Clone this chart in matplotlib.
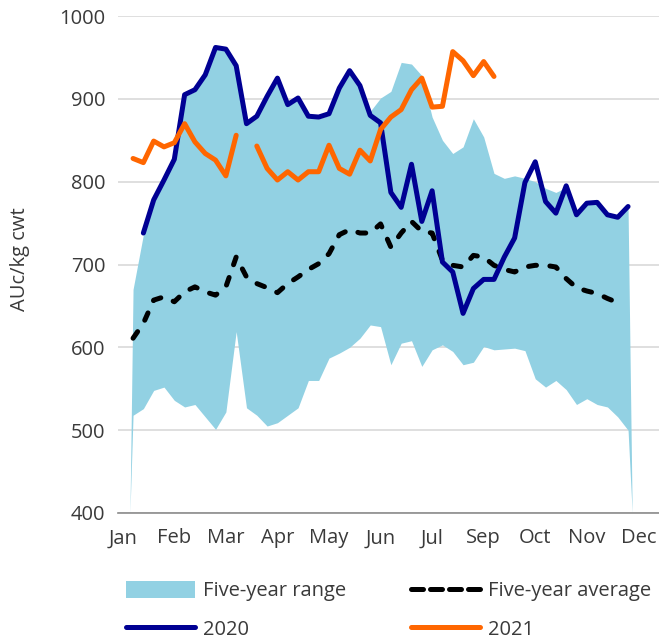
import numpy as np
import matplotlib
matplotlib.use("Agg")
import matplotlib.pyplot as plt
from matplotlib.patches import Patch
from matplotlib.lines import Line2D

plt.rcParams['font.family'] = ['Open Sans', 'DejaVu Sans']

# weekly categories
weeks = np.arange(1, 50)
month_ticks = np.arange(0, 51, 5)
month_labels = ['Jan', 'Feb', 'Mar', 'Apr', 'May', 'Jun', 'Jul', 'Sep', 'Oct', 'Nov', 'Dec']

nan = np.nan
range_low = [518, 526, 548, 552, 536, 528, 531, 516, 501, 522, 619, 527, 518, 505, 509, 518, 527,
             560, 560, 587, 593, 600, 611, 627, 625, 579, 605, 608, 577, 597, 603, 595, 579, 582,
             601, 597, 598, 599, 596, 562, 552, 560, 549, 531, 538, 531, 528, 516, 500]
range_high = [670, 736, 776, 800, 825, 903, 909, 927, 960, 958, 938, 868, 877, 901, 923, 891, 899,
              877, 876, 880, 911, 932, 914, 885, 901, 909, 944, 942, 928, 878, 850, 834, 842, 876,
              854, 810, 804, 807, 804, 800, 792, 787, 793, 758, 772, 773, 758, 755, 768]
avg5 = [611, 629, 657, 661, 655, 667, 673, 667, 663, 673, 709, 685, 677, 672, 666, 677, 685,
        694, 701, 713, 736, 742, 738, 738, 749, 721, 738, 752, 740, 738, 705, 699, 697, 711,
        709, 699, 694, 691, 697, 699, 699, 697, 683, 672, 668, 665, 659, 654, nan]
y2020 = [nan, 738, 778, 802, 827, 905, 911, 929, 962, 960, 940, 870, 879, 903, 925, 893, 901,
         879, 878, 882, 913, 934, 916, 880, 871, 787, 769, 821, 752, 789, 703, 691, 641, 671,
         682, 682, 709, 732, 799, 824, 776, 762, 795, 760, 774, 775, 760, 757, 770]
y2021 = [828, 823, 849, 842, 847, 870, 848, 834, 826, 807, 856, nan, 843, 816, 802, 812, 802,
         812, 812, 844, 816, 809, 838, 825, 863, 878, 887, 911, 925, 890, 891, 957, 946, 928,
         945, 927] + [nan] * 13

c_range = '#92d1e3'
c_2020 = '#000093'
c_2021 = '#ff6600'
c_text = '#3a3a3a'

fig = plt.figure(figsize=(6.59, 6.4), dpi=100)
ax = fig.add_axes([118 / 659, 1 - 513 / 640, 541 / 659, 497 / 640])

# range band, with the thin edges Excel draws down to the axis
xb = np.concatenate([[weeks[0] - 0.3], weeks, [weeks[-1] + 0.4]])
lo = np.concatenate([[400], range_low, [400]])
hi = np.concatenate([[400], range_high, [400]])
ax.fill_between(xb, lo, hi, color=c_range, linewidth=0, zorder=2)

ax.plot(weeks, avg5, color='black', lw=3.6, dashes=(1.6, 2.7),
        dash_capstyle='round', zorder=3)
ax.plot(weeks, y2020, color=c_2020, lw=3.6, solid_capstyle='round',
        solid_joinstyle='round', zorder=4)
ax.plot(weeks, y2021, color=c_2021, lw=3.6, solid_capstyle='round',
        solid_joinstyle='round', zorder=5)

ax.set_xlim(-0.46, 52)
ax.set_ylim(400, 1000)
ax.set_yticks(range(400, 1001, 100))
ax.set_xticks(month_ticks)
ax.set_xticklabels(month_labels)
ax.tick_params(length=0, labelsize=14.5, colors=c_text)
ax.tick_params(axis='x', pad=11)
ax.tick_params(axis='y', pad=9)
ax.grid(axis='y', color='#d9d9d9', lw=1.2, zorder=0)
ax.set_axisbelow(True)
for s in ['top', 'right', 'left']:
    ax.spines[s].set_visible(False)
ax.spines['bottom'].set_color('#8c8c8c')
ax.spines['bottom'].set_linewidth(1.2)
ax.set_ylabel('AUc/kg cwt', fontsize=14.5, color=c_text)
ax.yaxis.set_label_coords(-88 / 541, 0.51)

handles = [Patch(facecolor=c_range, edgecolor='none'),
           Line2D([], [], color=c_2020, lw=3.6, solid_capstyle='round'),
           Line2D([], [], color='black', lw=3.6, dashes=(2.4, 1.4), dash_capstyle='round'),
           Line2D([], [], color=c_2021, lw=3.6, solid_capstyle='round')]
labels = ['Five-year range', '2020', 'Five-year average', '2021']
fig.legend(handles, labels, ncol=2, loc='upper left', bbox_to_anchor=(116 / 659, 1 - 571 / 640),
           frameon=False, fontsize=14.5, handlelength=3.4, handleheight=0.9, handletextpad=0.4,
           columnspacing=3.25, labelspacing=0.9, borderpad=0, labelcolor=c_text)

fig.savefig('out.png', dpi=100)
